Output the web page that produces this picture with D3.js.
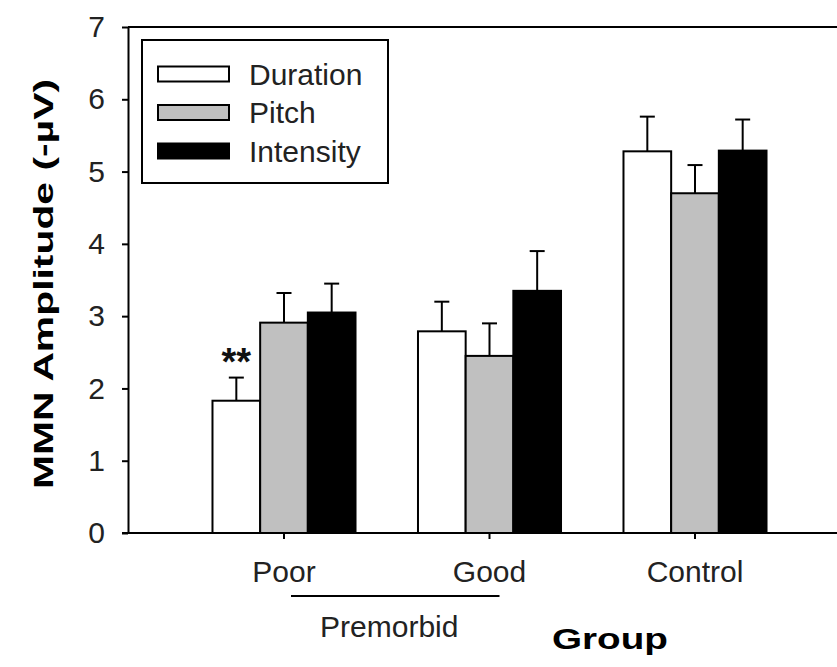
<!DOCTYPE html>
<html>
<head>
<meta charset="utf-8">
<script src="https://cdn.jsdelivr.net/npm/d3@7/dist/d3.min.js"></script>
<style>
  html, body { margin: 0; padding: 0; background: #fff; }
  svg { display: block; font-family: "Liberation Sans", Arial, sans-serif; }
</style>
</head>
<body>
<svg id="chart" width="837" height="667"></svg>
<script>
// Mismatch negativity amplitude by group and deviant type (mean + SEM)
const groups = ["Poor", "Good", "Control"];
const conditions = ["Duration", "Pitch", "Intensity"];
const fills = ["#ffffff", "#c0c0c0", "#000000"];

const durationMean  = [1.83, 2.79, 5.28];
const pitchMean     = [2.91, 2.45, 4.70];
const intensityMean = [3.05, 3.35, 5.29];

const durationSem  = [0.32, 0.41, 0.48];
const pitchSem     = [0.41, 0.45, 0.39];
const intensitySem = [0.40, 0.55, 0.43];

const yTicks = [0, 1, 2, 3, 4, 5, 6, 7];

const means = [durationMean, pitchMean, intensityMean];
const sems = [durationSem, pitchSem, intensitySem];
const rows = [];
groups.forEach((g, gi) => {
  conditions.forEach((c, ci) => {
    rows.push({ group: g, cond: c, ci, mean: means[ci][gi], sem: sems[ci][gi] });
  });
});

const svg = d3.select("#chart");
const W = 837;
const axisX = 128;

const y = d3.scaleLinear().domain([0, 7]).range([533, 27]);
const x = d3.scaleBand().domain(groups).range([181.25, 797.75])
  .paddingInner(0.304).paddingOuter(0.152);
const xc = d3.scaleBand().domain(conditions).range([0, x.bandwidth()]);

// frame lines (top and bottom run off the right edge)
svg.append("line").attr("x1", axisX).attr("x2", W)
  .attr("y1", y(7)).attr("y2", y(7))
  .attr("stroke", "#000").attr("stroke-width", 2);

// bars
const bars = svg.append("g");
bars.selectAll("rect").data(rows).join("rect")
  .attr("x", d => x(d.group) + xc(d.cond))
  .attr("y", d => y(d.mean))
  .attr("width", xc.bandwidth())
  .attr("height", d => y(0) - y(d.mean))
  .attr("fill", d => fills[d.ci])
  .attr("stroke", "#000").attr("stroke-width", 2);

// error bars (upper only)
const err = svg.append("g").attr("stroke", "#000").attr("stroke-width", 2);
rows.forEach(d => {
  const cx = x(d.group) + xc(d.cond) + xc.bandwidth() / 2;
  err.append("line").attr("x1", cx).attr("x2", cx)
    .attr("y1", y(d.mean)).attr("y2", y(d.mean + d.sem));
  err.append("line").attr("x1", cx - 7.5).attr("x2", cx + 7.5)
    .attr("y1", y(d.mean + d.sem)).attr("y2", y(d.mean + d.sem));
});

// significance marker over Poor / Duration
const poorDur = rows[0];
svg.append("text")
  .attr("x", x("Poor") + xc("Duration") + xc.bandwidth() / 2)
  .attr("y", y(poorDur.mean + poorDur.sem) - 3)
  .attr("text-anchor", "middle")
  .attr("font-size", 38).attr("font-weight", "bold")
  .attr("fill", "#111")
  .text("**");

// y axis
const yAxis = svg.append("g").attr("transform", `translate(${axisX},0)`)
  .call(d3.axisLeft(y).tickValues(yTicks).tickFormat(d3.format("d"))
    .tickSize(6).tickSizeOuter(0).tickPadding(17));
yAxis.select(".domain").attr("stroke-width", 2);
yAxis.selectAll(".tick line").attr("stroke-width", 2);
yAxis.selectAll("text").attr("font-size", 30).attr("fill", "#222")
  .attr("font-family", "'Liberation Sans', Arial, sans-serif");

// x axis
const xAxis = svg.append("g").attr("transform", `translate(0,${y(0)})`)
  .call(d3.axisBottom(x).tickSize(6).tickSizeOuter(0).tickPadding(21.5));
xAxis.select(".domain").remove();
xAxis.selectAll(".tick line").attr("stroke-width", 2);
xAxis.selectAll("text").attr("font-size", 30).attr("fill", "#222")
  .attr("font-family", "'Liberation Sans', Arial, sans-serif");
svg.append("line").attr("x1", axisX - 6).attr("x2", W)
  .attr("y1", y(0)).attr("y2", y(0))
  .attr("stroke", "#000").attr("stroke-width", 2);

// premorbid bracket
const pL = x("Poor") + x.bandwidth() / 2 + 7;
const pR = x("Good") + x.bandwidth() / 2 + 10;
svg.append("line").attr("x1", pL).attr("x2", pR)
  .attr("y1", 596).attr("y2", 596)
  .attr("stroke", "#000").attr("stroke-width", 2);
svg.append("text").attr("x", (pL + pR) / 2 - 6).attr("y", 637)
  .attr("text-anchor", "middle").attr("font-size", 30).attr("fill", "#222")
  .text("Premorbid");

// axis titles
svg.append("text").attr("x", 610).attr("y", 649)
  .attr("text-anchor", "middle").attr("font-size", 29).attr("font-weight", "bold")
  .attr("textLength", 116).attr("lengthAdjust", "spacingAndGlyphs")
  .text("Group");
svg.append("text")
  .attr("transform", "translate(53,284) rotate(-90)")
  .attr("text-anchor", "middle").attr("font-size", 28).attr("font-weight", "bold")
  .attr("textLength", 410).attr("lengthAdjust", "spacingAndGlyphs")
  .text("MMN Amplitude (-µV)");

// legend
const lg = svg.append("g");
lg.append("rect").attr("x", 142).attr("y", 40).attr("width", 246).attr("height", 143)
  .attr("fill", "#fff").attr("stroke", "#000").attr("stroke-width", 2);
conditions.forEach((c, i) => {
  const cy = 74 + i * 38.5;
  lg.append("rect").attr("x", 158).attr("y", cy - 7.5).attr("width", 71).attr("height", 15)
    .attr("fill", fills[i]).attr("stroke", "#000").attr("stroke-width", 2);
  lg.append("text").attr("x", 249).attr("y", cy + 10.5)
    .attr("font-size", 30).attr("fill", "#222").text(c);
});
</script>
</body>
</html>
